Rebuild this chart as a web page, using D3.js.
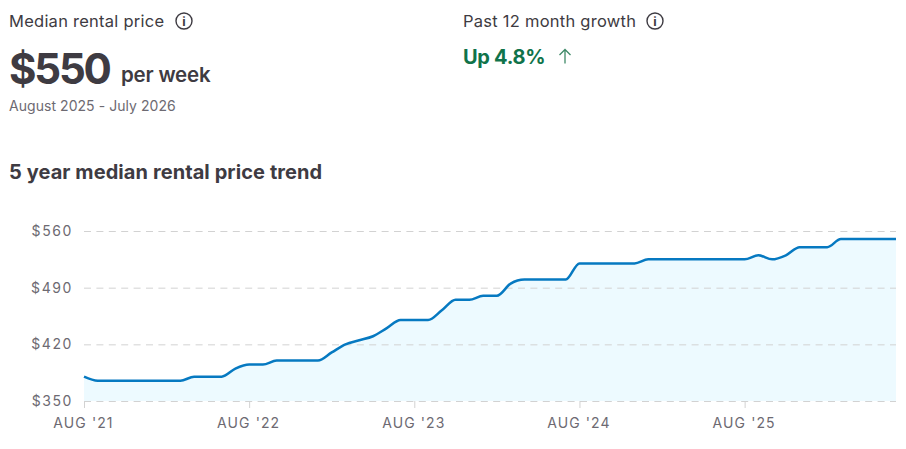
<!DOCTYPE html>
<html>
<head>
<meta charset="utf-8">
<script src="https://cdn.jsdelivr.net/npm/d3@7"></script>
<style>
  html, body { margin: 0; padding: 0; background: #fff; }
  svg { display: block; }
  text { font-family: Inter, "Noto Sans", sans-serif; }
</style>
</head>
<body>
<svg id="chart" width="906" height="449"></svg>
<script>
// one value per month, Aug '21 to Jul '26
const rentValues = [
  380, 375, 375, 375, 375, 375, 375, 375, 380, 380, 380, 390,
  395, 395, 400, 400, 400, 400, 410, 420, 425, 430, 440, 450,
  450, 450, 462, 475, 475, 480, 480, 495, 500, 500, 500, 500,
  520, 520, 520, 520, 520, 525, 525, 525, 525, 525, 525, 525,
  525, 530, 525, 530, 540, 540, 540, 550, 550, 550, 550, 550
];
const yTicks = [350, 420, 490, 560];
const xTickMonths = [0, 12, 24, 36, 48];
const xTickLabels = ["AUG '21", "AUG '22", "AUG '23", "AUG '24", "AUG '25"];

const svg = d3.select("#chart");

const x = d3.scaleLinear([0, rentValues.length - 1], [84, 896]);
const y = d3.scaleLinear([350, 560], [401, 231]);

const textCol = "#3e3b42";
const greyCol = "#6d6a72";

// header text
function label(px, py, txt, size, weight, col, spacing) {
  return svg.append("text")
    .attr("x", px)
    .attr("y", py)
    .attr("font-size", size)
    .attr("font-weight", weight)
    .attr("fill", col)
    .attr("letter-spacing", spacing || 0)
    .text(txt);
}

function infoIcon(cx, cy) {
  const g = svg.append("g").attr("transform", `translate(${cx},${cy})`);
  g.append("circle").attr("r", 8).attr("fill", "none").attr("stroke", textCol).attr("stroke-width", 1.4);
  g.append("text")
    .attr("text-anchor", "middle")
    .attr("y", 4.5)
    .attr("font-size", 12.5)
    .attr("font-family", "'DejaVu Serif', serif")
    .attr("font-weight", 700)
    .attr("fill", textCol)
    .text("i");
}

label(9, 27, "Median rental price", 16.5, 400, textCol, 0.25);
infoIcon(184, 21);
label(9, 84, "$550", 42, 700, textCol, -2.2);
label(121, 82, "per week", 20.5, 600, textCol, -0.2);
label(9, 111, "August 2025 - July 2026", 14, 400, greyCol, 0.05);

label(463, 27, "Past 12 month growth", 16.5, 400, textCol, 0.25);
infoIcon(655, 21);
label(463, 64, "Up 4.8%", 20, 700, "#10734a", -0.3);
svg.append("path")
  .attr("d", "M565 63.5V49.5M559.5 55L565 49.5L570.5 55")
  .attr("fill", "none")
  .attr("stroke", "#3f8a68")
  .attr("stroke-width", 1.3);

label(9, 179, "5 year median rental price trend", 20, 700, textCol, 0.08);

// area first, grid lines sit on top of it
const area = d3.area()
  .x((d, i) => x(i))
  .y0(y(350))
  .y1((d) => y(d))
  .curve(d3.curveMonotoneX);

const line = d3.line()
  .x((d, i) => x(i))
  .y((d) => y(d))
  .curve(d3.curveMonotoneX);

svg.append("path")
  .attr("d", area(rentValues))
  .attr("fill", "#edfaff");

// y axis
const yAxis = svg.append("g")
  .attr("transform", "translate(84,0)")
  .call(d3.axisLeft(y).tickValues(yTicks).tickSize(0).tickPadding(11).tickFormat((d) => "$" + d));
yAxis.select(".domain").remove();
yAxis.selectAll("text")
  .attr("font-size", 14)
  .attr("font-family", "Inter, sans-serif")
  .attr("letter-spacing", 1.6)
  .attr("fill", greyCol);
yAxis.selectAll(".tick line")
  .attr("x2", 812)
  .attr("stroke", "#d2d2d2")
  .attr("stroke-width", 1)
  .attr("stroke-dasharray", "7 5.4");

// x axis
const xAxis = svg.append("g")
  .attr("transform", "translate(0,401)")
  .call(d3.axisBottom(x)
    .tickValues(xTickMonths)
    .tickSize(7)
    .tickPadding(10)
    .tickFormat((d, i) => xTickLabels[i]));
xAxis.select(".domain").remove();
xAxis.selectAll(".tick line").attr("stroke", "#d2d2d2");
xAxis.selectAll("text")
  .attr("font-size", 14)
  .attr("font-family", "Inter, sans-serif")
  .attr("letter-spacing", 1.1)
  .attr("dx", -1)
  .attr("fill", greyCol);

svg.append("path")
  .attr("d", line(rentValues))
  .attr("fill", "none")
  .attr("stroke", "#0679c1")
  .attr("stroke-width", 2.5);
</script>
</body>
</html>
